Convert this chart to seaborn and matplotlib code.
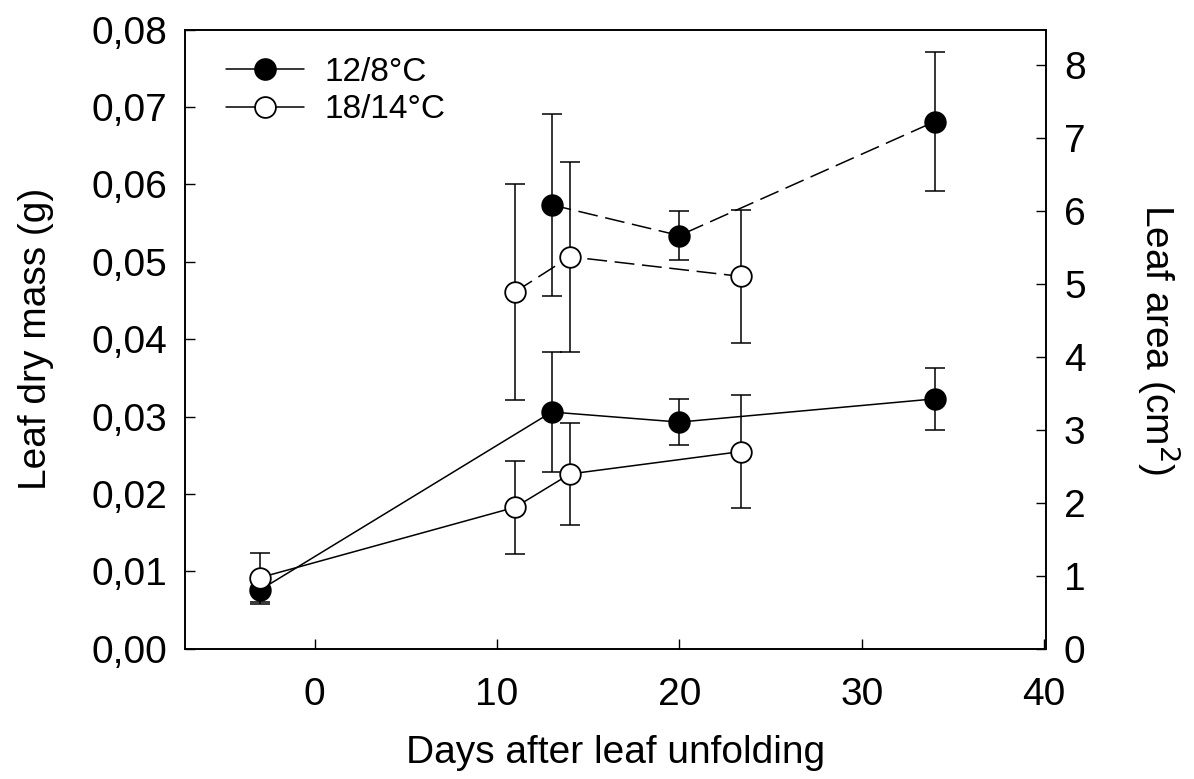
import numpy as np
import pandas as pd
import matplotlib
matplotlib.use("Agg")
import matplotlib.pyplot as plt
import seaborn as sns
from matplotlib.lines import Line2D
from matplotlib.ticker import FuncFormatter, MultipleLocator

sns.set_style("ticks")
plt.rcParams['font.family'] = ['Liberation Sans', 'DejaVu Sans']
plt.rcParams.update({'text.color': 'black', 'axes.labelcolor': 'black',
                     'xtick.color': 'black', 'ytick.color': 'black',
                     'axes.edgecolor': 'black'})

# leaf dry mass (g), left axis
days_cold = [-3, 13, 20, 34]
mass_cold = [0.0076, 0.0306, 0.0293, 0.0323]
mass_cold_sd = [0.0018, 0.0078, 0.0030, 0.0040]
days_warm = [-3, 11, 14, 23.4]
mass_warm = [0.0092, 0.0183, 0.0226, 0.0255]
mass_warm_sd = [0.0032, 0.0060, 0.0066, 0.0073]

# leaf area (cm2), right axis
area_days_cold = [13, 20, 34]
area_cold = [6.08, 5.66, 7.22]
area_cold_sd = [1.25, 0.34, 0.95]
area_days_warm = [11, 14, 23.4]
area_warm = [4.89, 5.37, 5.10]
area_warm_sd = [1.48, 1.30, 0.91]

labels = ['12/8°C', '18/14°C']

mass_df = pd.concat([
    pd.DataFrame({'day': days_cold, 'val': mass_cold, 'sd': mass_cold_sd, 'temp': labels[0]}),
    pd.DataFrame({'day': days_warm, 'val': mass_warm, 'sd': mass_warm_sd, 'temp': labels[1]}),
])
area_df = pd.concat([
    pd.DataFrame({'day': area_days_cold, 'val': area_cold, 'sd': area_cold_sd, 'temp': labels[0]}),
    pd.DataFrame({'day': area_days_warm, 'val': area_warm, 'sd': area_warm_sd, 'temp': labels[1]}),
])

fig = plt.figure(figsize=(11.94, 7.79), dpi=100)
ax = fig.add_axes([0.155, 0.167, 0.721, 0.795])
ax2 = ax.twinx()

face = {labels[0]: 'black', labels[1]: 'white'}
lw = 1.1
msize = 220


def draw(axis, df, ls):
    for t in labels:
        sub = df[df['temp'] == t]
        sns.lineplot(data=sub, x='day', y='val', color='black', linewidth=lw,
                     linestyle=ls, ax=axis, zorder=1, legend=False)
        axis.errorbar(sub['day'], sub['val'], yerr=sub['sd'], fmt='none',
                      ecolor='black', elinewidth=lw, capsize=7, capthick=lw, zorder=2)
    for t in labels:
        sub = df[df['temp'] == t]
        sns.scatterplot(data=sub, x='day', y='val', color=face[t], edgecolor='black',
                        linewidth=1.3, s=msize, ax=axis, zorder=3, legend=False)


draw(ax, mass_df, '-')
draw(ax2, area_df, (0, (13, 5)))

ax.set_xlim(-7.1, 40.1)
ax.set_ylim(0, 0.08)
ax2.set_ylim(0, 8.48)
ax.xaxis.set_major_locator(MultipleLocator(10))
ax.yaxis.set_major_locator(MultipleLocator(0.01))
ax2.set_yticks(range(0, 9))
ax.yaxis.set_major_formatter(FuncFormatter(lambda v, p: f"{v:.2f}".replace('.', ',')))

for a in (ax, ax2):
    a.tick_params(direction='in', length=7, width=1, labelsize=28, pad=13)
    for sp in a.spines.values():
        sp.set_linewidth(1.2)
        sp.set_visible(True)
ax.tick_params(axis='x', pad=20)
ax.tick_params(top=False, right=False)

ax.set_xlabel('Days after leaf unfolding', fontsize=28, labelpad=16)
ax.set_ylabel('Leaf dry mass (g)', fontsize=28, labelpad=27)
ax2.set_ylabel('Leaf area (cm$^2$)', fontsize=28, rotation=270, labelpad=70)

handles = [Line2D([], [], color='black', lw=lw, marker='o', markersize=15,
                  markerfacecolor=face[t], markeredgecolor='black', markeredgewidth=1.3)
           for t in labels]
ax.legend(handles, labels, loc='upper left', frameon=False, fontsize=24,
          handlelength=2.33, handletextpad=0.64, labelspacing=0.2,
          bbox_to_anchor=(0.032, 0.978), borderaxespad=0)

fig.savefig('out.png', dpi=100)
